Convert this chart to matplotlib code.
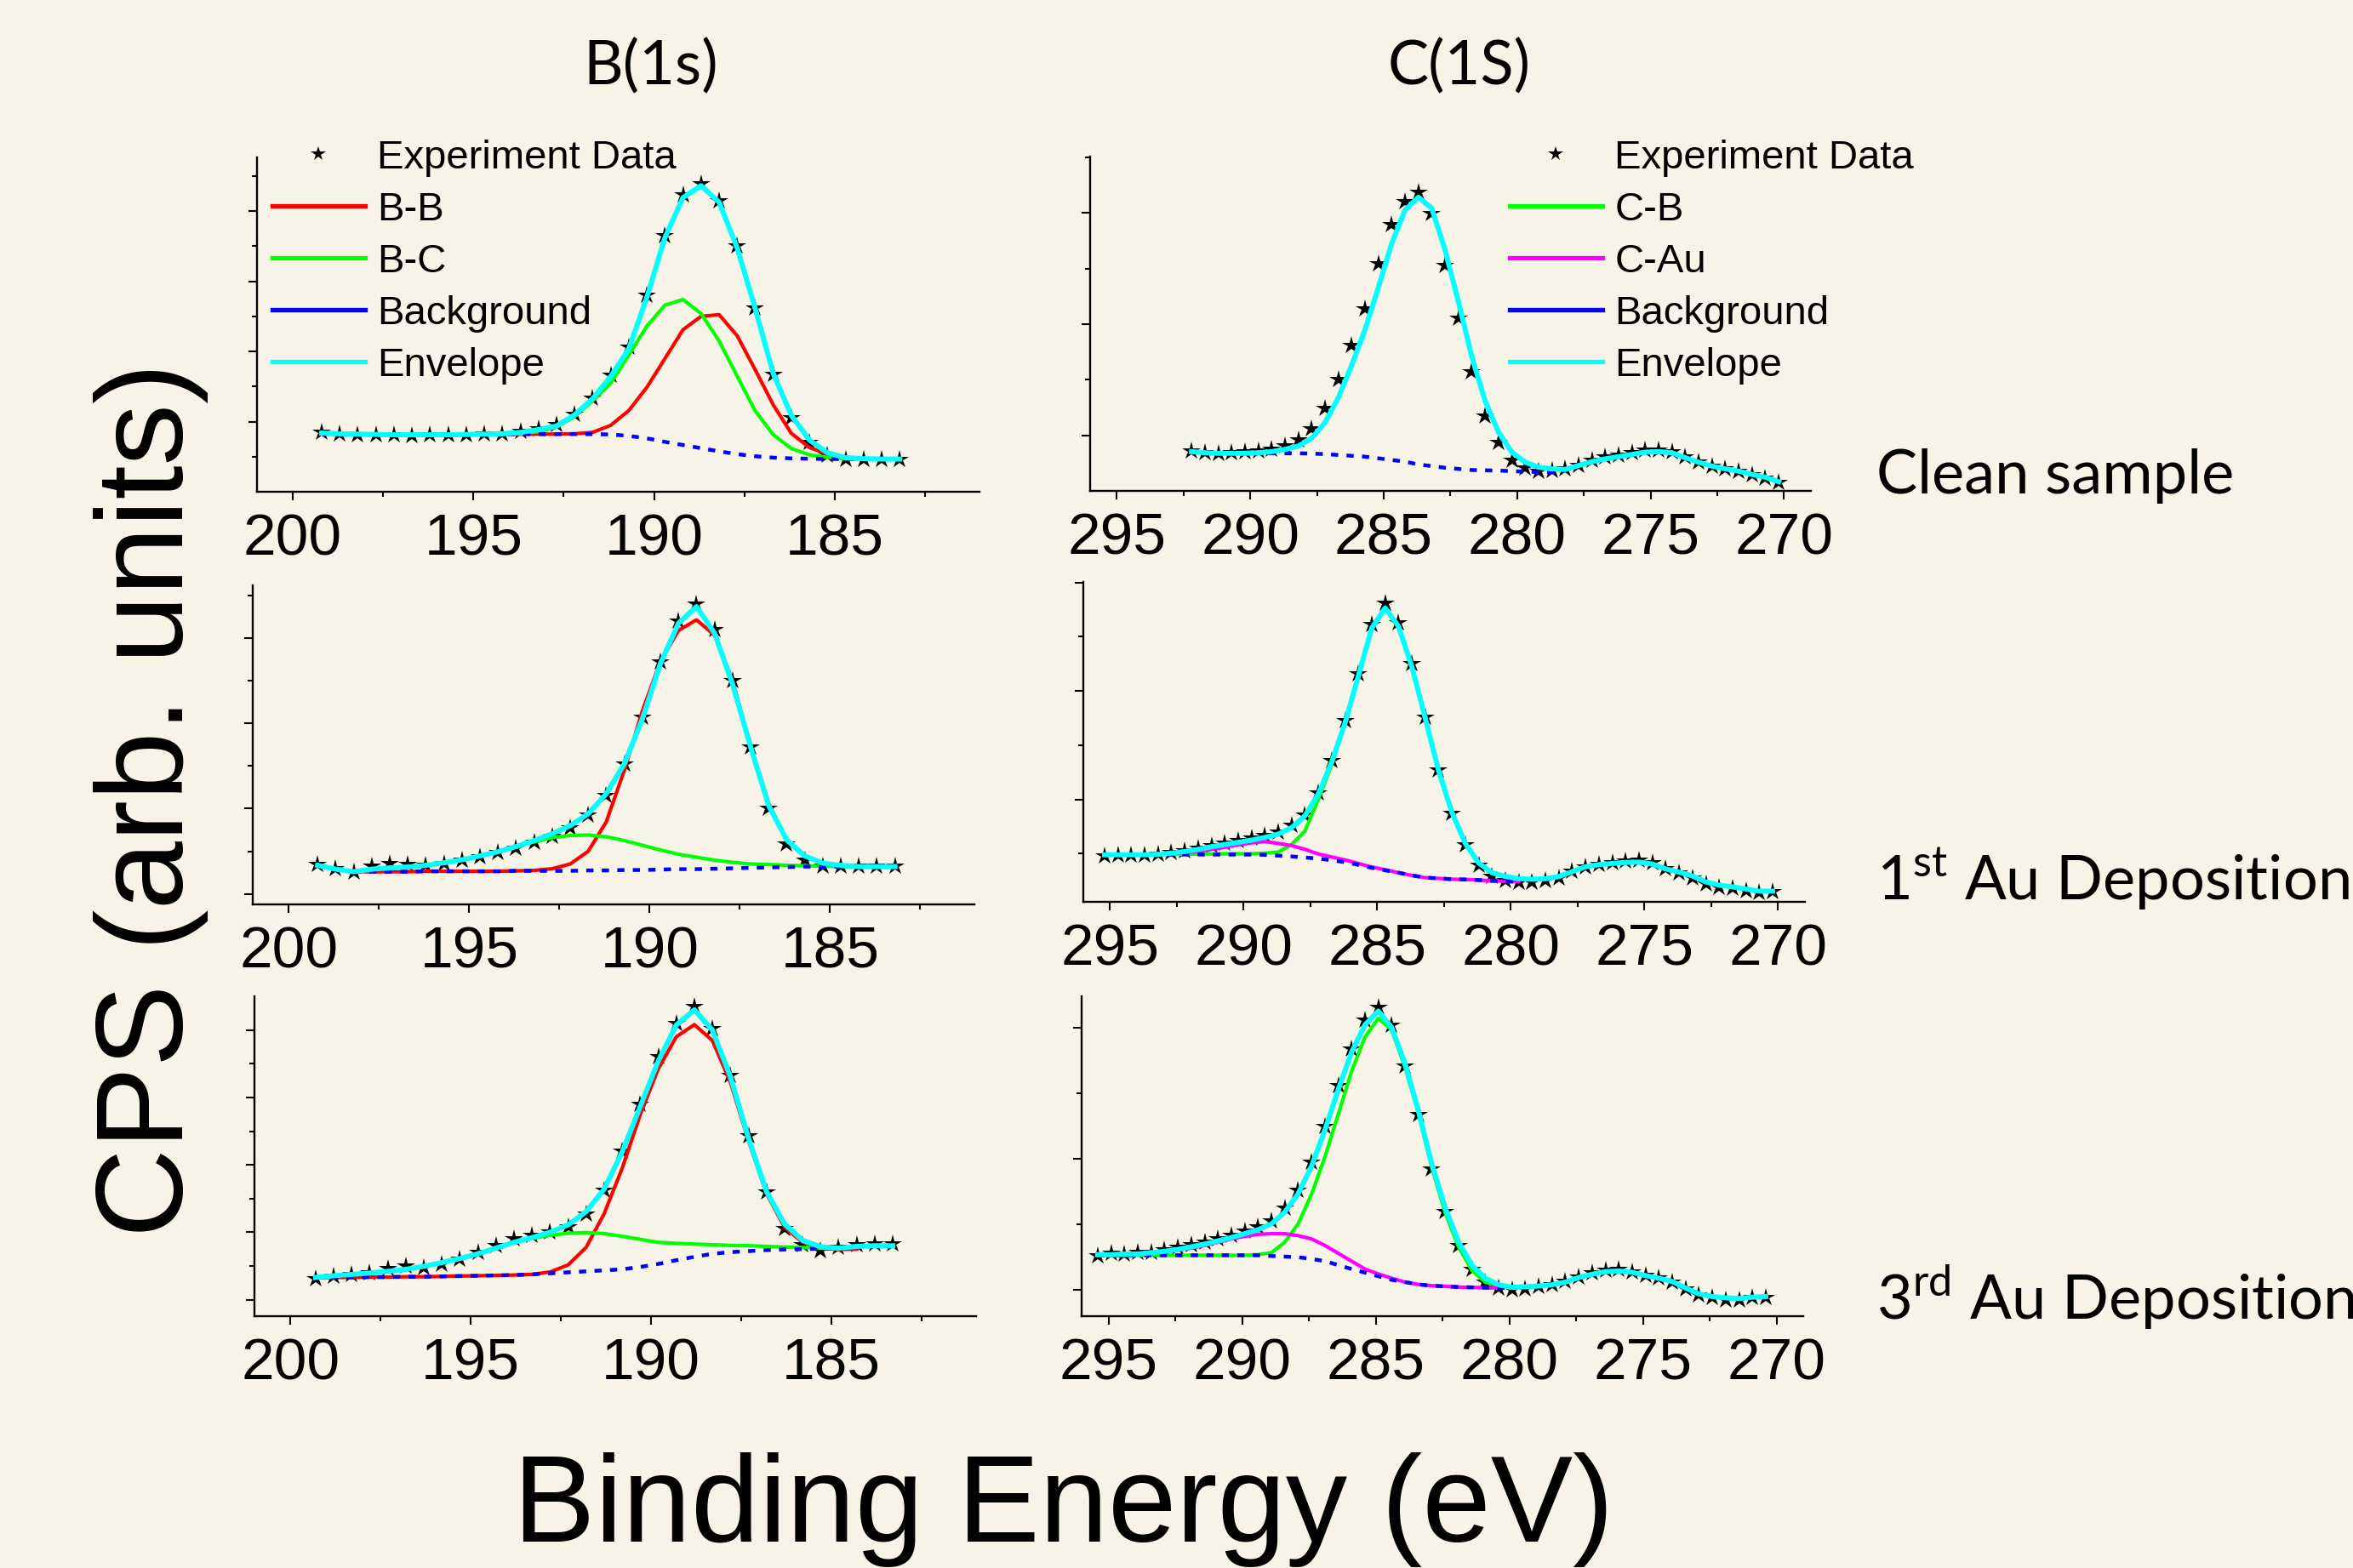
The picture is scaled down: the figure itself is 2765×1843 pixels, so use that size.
import numpy as np
import matplotlib
matplotlib.use('Agg')
import matplotlib.pyplot as plt
from matplotlib.lines import Line2D

nan = np.nan

# ---------------- B(1s), clean sample ----------------
e_b1 = np.linspace(199.2, 183.2, 33)
exp_b1 = [1.71, 1.66, 1.63, 1.64, 1.62, 1.60, 1.62, 1.63, 1.62, 1.65, 1.66, 1.72, 1.80, 1.92, 2.22, 2.68, 3.32,
          4.12, 5.60, 7.30, 8.45, 8.78, 8.30, 7.00, 5.25, 3.35, 2.12, 1.42, 1.06, 0.94, 0.92, 0.93, 0.92]
env_b1 = [1.68, 1.66, 1.65, 1.64, 1.63, 1.63, 1.63, 1.63, 1.64, 1.65, 1.66, 1.70, 1.78, 1.88, 2.20, 2.66, 3.29,
          4.08, 5.54, 7.24, 8.38, 8.72, 8.25, 6.95, 5.22, 3.37, 2.18, 1.48, 1.12, 0.98, 0.95, 0.94, 0.94]
bg_b1 = [1.66, 1.65, 1.65, 1.64, 1.63, 1.63, 1.63, 1.63, 1.63, 1.64, 1.65, 1.65, 1.65, 1.65, 1.65, 1.65, 1.64,
         1.60, 1.53, 1.43, 1.34, 1.25, 1.16, 1.08, 1.02, 0.98, 0.96, 0.95, 0.94, 0.94, 0.94, 0.94, 0.94]
bb_b1 = [1.66, 1.65, 1.65, 1.64, 1.63, 1.63, 1.63, 1.63, 1.63, 1.64, 1.65, 1.65, 1.65, 1.65, 1.66, 1.70, 1.90,
         2.32, 2.98, 3.80, 4.62, 5.00, 5.05, 4.45, 3.48, 2.48, 1.67, 1.27, 1.08, 0.98, 0.95, 0.94, 0.94]
bc_b1 = [1.66, 1.65, 1.65, 1.64, 1.63, 1.63, 1.63, 1.63, 1.63, 1.64, 1.65, 1.66, 1.72, 1.85, 2.15, 2.60, 3.10,
         3.90, 4.72, 5.32, 5.48, 5.08, 4.30, 3.30, 2.31, 1.63, 1.24, 1.06, 0.99, 0.95, 0.94, 0.94, 0.94]

# ---------------- C(1S), clean sample ----------------
e_c1 = np.linspace(292.2, 270.2, 45)
exp_c1 = [0.73, 0.69, 0.67, 0.69, 0.70, 0.72, 0.76, 0.82, 0.92, 1.12, 1.48, 2.00, 2.62, 3.28, 4.08, 4.78, 5.20,
          5.37, 4.98, 4.05, 3.10, 2.15, 1.35, 0.88, 0.55, 0.42, 0.36, 0.37, 0.40, 0.47, 0.55, 0.61, 0.65, 0.69,
          0.74, 0.74, 0.70, 0.61, 0.52, 0.45, 0.40, 0.35, 0.29, 0.23, 0.16]
env_c1 = [0.71, 0.69, 0.68, 0.68, 0.68, 0.69, 0.71, 0.75, 0.81, 0.95, 1.23, 1.68, 2.26, 2.90, 3.66, 4.45, 5.05,
          5.28, 5.08, 4.33, 3.40, 2.42, 1.62, 1.06, 0.70, 0.52, 0.43, 0.40, 0.39, 0.46, 0.53, 0.58, 0.62, 0.66,
          0.70, 0.71, 0.69, 0.60, 0.52, 0.45, 0.40, 0.36, 0.30, 0.25, 0.17]
bg_c1 = [0.71, 0.69, 0.68, 0.68, 0.68, 0.68, 0.68, 0.68, 0.68, 0.675, 0.665, 0.65, 0.635, 0.62, 0.59, 0.56, 0.53,
         0.48, 0.45, 0.42, 0.40, 0.38, 0.375, 0.37, 0.36, 0.35, 0.345, 0.34, 0.37,
         nan, nan, nan, nan, nan, nan, nan, nan, nan, nan, nan, nan, nan, nan, nan, nan]
cb_c1 = env_c1  # single C-B component, lies under the envelope

# ---------------- B(1s), 1st Au deposition ----------------
e_b2 = np.linspace(199.2, 183.2, 33)
exp_b2 = [0.70, 0.60, 0.52, 0.66, 0.72, 0.70, 0.68, 0.72, 0.80, 0.88, 0.97, 1.08, 1.21, 1.36, 1.55, 1.85, 2.30,
          3.05, 4.15, 5.45, 6.40, 6.80, 6.20, 5.00, 3.45, 2.00, 1.18, 0.80, 0.66, 0.66, 0.66, 0.66, 0.66]
env_b2 = [0.67, 0.58, 0.52, 0.58, 0.61, 0.63, 0.67, 0.73, 0.80, 0.89, 0.99, 1.11, 1.25, 1.41, 1.60, 1.88, 2.35,
          3.05, 4.10, 5.40, 6.35, 6.74, 6.12, 4.92, 3.45, 2.07, 1.27, 0.89, 0.72, 0.67, 0.64, 0.64, 0.64]
bg_b2 = [nan, nan, 0.52, 0.52, 0.52, 0.52, 0.53, 0.53, 0.53, 0.53, 0.53, 0.54, 0.54, 0.54, 0.54, 0.55, 0.55,
         0.56, 0.56, 0.57, 0.58, 0.58, 0.59, 0.60, 0.61, 0.62, 0.63, 0.64, 0.64, 0.64, 0.64, 0.64, 0.64]
bb_b2 = [nan, nan, 0.52, 0.52, 0.52, 0.52, 0.53, 0.53, 0.53, 0.53, 0.53, 0.54, 0.55, 0.59, 0.70, 1.00, 1.69,
         2.90, 4.29, 5.45, 6.18, 6.43, 6.07, 5.00, 3.46, 2.13, 1.24, 0.88, 0.72, 0.66, 0.65, 0.65, 0.65]
bc_b2 = [0.67, 0.58, 0.52, 0.58, 0.61, 0.63, 0.67, 0.73, 0.80, 0.89, 0.99, 1.10, 1.22, 1.32, 1.37, 1.38, 1.34,
         1.25, 1.14, 1.03, 0.93, 0.86, 0.79, 0.74, 0.70, 0.69, 0.67, 0.66, 0.65, 0.64, 0.64, 0.64, 0.64]

# ---------------- C(1S), 1st Au deposition ----------------
e_c2 = np.linspace(295.2, 270.2, 51)
exp_c2 = [-0.04, -0.03, -0.02, -0.03, -0.01, 0.02, 0.05, 0.10, 0.15, 0.20, 0.25, 0.29, 0.34, 0.40, 0.52, 0.72,
          1.12, 1.72, 2.45, 3.32, 4.22, 4.62, 4.25, 3.50, 2.52, 1.55, 0.74, 0.16, -0.22, -0.42, -0.50, -0.53,
          -0.52, -0.50, -0.44, -0.33, -0.24, -0.20, -0.17, -0.13, -0.12, -0.17, -0.28, -0.36, -0.44, -0.55,
          -0.62, -0.64, -0.68, -0.72, -0.70]
env_c2 = [-0.02, -0.02, -0.02, -0.02, -0.01, 0.01, 0.04, 0.08, 0.13, 0.17, 0.21, 0.25, 0.30, 0.36, 0.48, 0.70,
          1.10, 1.69, 2.41, 3.28, 4.16, 4.53, 4.19, 3.45, 2.50, 1.53, 0.76, 0.19, -0.17, -0.35, -0.42, -0.46,
          -0.47, -0.46, -0.42, -0.33, -0.24, -0.20, -0.18, -0.16, -0.155, -0.19, -0.28, -0.34, -0.41, -0.52,
          -0.58, -0.61, -0.65, -0.69, -0.69]
bg_c2 = [-0.015, -0.015, -0.015, -0.015, -0.015, -0.015, -0.015, -0.015, -0.015, -0.015, -0.015, -0.015,
         -0.02, -0.035, -0.05, -0.07, -0.09, -0.12, -0.155, -0.205, -0.26, -0.305, -0.35, -0.40, -0.44, -0.455,
         -0.47, -0.475, -0.485, -0.50, -0.51, -0.515,
         nan, nan, nan, nan, nan, nan, nan, nan, nan, nan, nan, nan, nan, nan, nan, nan, nan, nan, nan]
cb_c2 = [-0.015, -0.015, -0.015, -0.015, -0.01, -0.01, -0.01, -0.005, -0.005, 0.0, 0.0, 0.0, 0.01, 0.03, 0.17,
         0.42, 1.00, 1.64, 2.40, 3.28, 4.16, 4.53, 4.19, 3.45, 2.50, 1.53, 0.76, 0.19, -0.17, -0.35, -0.42,
         nan, nan, nan, nan, nan, nan, nan, nan, nan, nan, nan, nan, nan, nan, nan, nan, nan, nan, nan, nan]
cau_c2 = [-0.015, -0.015, -0.015, -0.015, -0.01, 0.0, 0.02, 0.045, 0.08, 0.12, 0.165, 0.20, 0.225, 0.19, 0.15,
          0.08, -0.005, -0.06, -0.115, -0.18, -0.245, -0.295, -0.35, -0.40, -0.44, -0.455, -0.47, -0.475,
          -0.485, -0.50, -0.51, -0.515,
          nan, nan, nan, nan, nan, nan, nan, nan, nan, nan, nan, nan, nan, nan, nan, nan, nan, nan, nan]

# ---------------- B(1s), 3rd Au deposition ----------------
e_b3 = np.linspace(199.3, 183.3, 33)
exp_b3 = [0.62, 0.70, 0.74, 0.80, 0.92, 1.00, 0.95, 1.05, 1.20, 1.40, 1.60, 1.80, 1.90, 2.00, 2.15, 2.55, 3.25,
          4.40, 5.80, 7.20, 8.20, 8.70, 8.05, 6.65, 4.85, 3.20, 2.10, 1.62, 1.45, 1.55, 1.62, 1.65, 1.65]
env_b3 = [0.66, 0.71, 0.75, 0.79, 0.84, 0.90, 0.99, 1.10, 1.22, 1.36, 1.53, 1.70, 1.84, 2.00, 2.22, 2.61, 3.28,
          4.38, 5.73, 7.08, 8.15, 8.60, 8.00, 6.62, 4.80, 3.21, 2.25, 1.76, 1.57, 1.53, 1.58, 1.60, 1.60]
bg_b3 = [0.65, 0.66, 0.66, 0.67, 0.67, 0.68, 0.68, 0.69, 0.70, 0.71, 0.72, 0.73, 0.75, 0.78, 0.81, 0.84, 0.87,
         0.90, 0.97, 1.06, 1.17, 1.27, 1.36, 1.41, 1.44, 1.47, 1.49, 1.50, 1.51, 1.52, 1.53, nan, nan]
bb_b3 = [0.65, 0.66, 0.66, 0.67, 0.67, 0.68, 0.68, 0.69, 0.70, 0.71, 0.72, 0.73, 0.75, 0.82, 1.03, 1.55, 2.55,
         3.90, 5.49, 6.85, 7.80, 8.16, 7.69, 6.45, 4.72, 3.15, 2.15, 1.70, 1.53, 1.49, 1.50, nan, nan]
bc_b3 = [0.66, 0.71, 0.75, 0.79, 0.84, 0.90, 0.99, 1.10, 1.22, 1.36, 1.53, 1.70, 1.82, 1.91, 1.97, 1.99, 1.96,
         1.88, 1.79, 1.70, 1.67, 1.65, 1.63, 1.61, 1.60, 1.58, 1.56, 1.55, 1.53, 1.51, nan, nan, nan]

# ---------------- C(1S), 3rd Au deposition ----------------
e_c3 = np.linspace(295.4, 270.4, 51)
exp_c3 = [0.52, 0.56, 0.55, 0.57, 0.58, 0.62, 0.65, 0.69, 0.73, 0.78, 0.84, 0.90, 0.97, 1.06, 1.25, 1.52, 1.95,
          2.50, 3.12, 3.68, 4.12, 4.32, 4.05, 3.42, 2.68, 1.85, 1.20, 0.68, 0.32, 0.12, 0.03, 0.00, 0.02, 0.05,
          0.08, 0.13, 0.20, 0.26, 0.30, 0.31, 0.28, 0.23, 0.18, 0.12, 0.02, -0.08, -0.12, -0.15, -0.15, -0.12,
          -0.12]
env_c3 = [0.54, 0.54, 0.55, 0.55, 0.57, 0.59, 0.62, 0.66, 0.70, 0.75, 0.80, 0.86, 0.92, 1.01, 1.19, 1.47, 1.89,
          2.44, 3.06, 3.63, 4.05, 4.26, 4.01, 3.46, 2.74, 1.93, 1.26, 0.74, 0.38, 0.18, 0.08, 0.04, 0.05, 0.06,
          0.08, 0.12, 0.19, 0.24, 0.28, 0.29, 0.27, 0.22, 0.18, 0.13, 0.03, -0.06, -0.10, -0.12, -0.13, -0.11,
          -0.10]
bg_c3 = [0.53, 0.53, 0.53, 0.53, 0.53, 0.53, 0.53, 0.53, 0.53, 0.53, 0.53, 0.53, 0.53, 0.52, 0.51, 0.50, 0.475,
         0.44, 0.38, 0.32, 0.265, 0.21, 0.155, 0.12, 0.085, 0.065, 0.055, 0.045, 0.04, 0.035, 0.03, 0.03,
         nan, nan, nan, nan, nan, nan, nan, nan, nan, nan, nan, nan, nan, nan, nan, nan, nan, nan, nan]
cb_c3 = [0.53, 0.53, 0.53, 0.53, 0.53, 0.53, 0.53, 0.53, 0.53, 0.53, 0.53, 0.53, 0.54, 0.57, 0.73, 1.01, 1.46,
         2.03, 2.68, 3.34, 3.86, 4.15, 3.97, 3.40, 2.70, 1.87, 1.18, 0.66, 0.30, 0.12, 0.06, 0.03,
         nan, nan, nan, nan, nan, nan, nan, nan, nan, nan, nan, nan, nan, nan, nan, nan, nan, nan, nan]
cau_c3 = [0.54, 0.54, 0.55, 0.55, 0.56, 0.58, 0.61, 0.64, 0.68, 0.73, 0.78, 0.82, 0.85, 0.86, 0.86, 0.83, 0.78,
          0.68, 0.56, 0.44, 0.32, 0.245, 0.18, 0.12, 0.085, 0.065, 0.055, 0.045, 0.04, 0.035, 0.03,
          nan, nan, nan, nan, nan, nan, nan, nan, nan, nan, nan, nan, nan, nan, nan, nan, nan, nan, nan, nan]

# tick values
b_major = [200, 195, 190, 185]
b_minor = [197.5, 192.5, 187.5, 182.5]
c_major = [295, 290, 285, 280, 275, 270]
c_minor = [292.5, 287.5, 282.5, 277.5, 272.5]

row_labels = ['Clean sample', r'1$^{\mathrm{st}}$ Au Deposition', r'3$^{\mathrm{rd}}$ Au Deposition']

RED, GREEN, BLUE, CYAN, MAG = '#ff0000', '#00ff00', '#0000ff', '#00ffff', '#ff00ff'
BGCOL = '#f7f3e6'
W, H = 2765, 1843

plt.rcParams['font.family'] = ['Liberation Sans', 'DejaVu Sans']
plt.rcParams['mathtext.fontset'] = 'custom'
plt.rcParams['mathtext.rm'] = 'Lato'

fig = plt.figure(figsize=(W / 100, H / 100), dpi=100)
fig.patch.set_facecolor(BGCOL)


def add_ax(left, top, right, bottom):
    return fig.add_axes([left / W, 1 - bottom / H, (right - left) / W, (bottom - top) / H])


def style(ax, xlim, xmaj, xmin, ylim, ymaj, ymin):
    ax.set_facecolor(BGCOL)
    ax.set_xlim(*xlim)
    ax.set_ylim(*ylim)
    ax.set_xticks(xmaj)
    ax.set_xticklabels([str(v) for v in xmaj])
    ax.set_xticks(xmin, minor=True)
    ax.set_yticks(ymaj)
    ax.set_yticks(ymin, minor=True)
    ax.tick_params(labelleft=False)
    for s in ['top', 'right']:
        ax.spines[s].set_visible(False)
    for s in ['left', 'bottom']:
        ax.spines[s].set_linewidth(1.7)
    ax.tick_params(which='major', length=7.5, width=1.5, labelsize=50, pad=10, direction='out')
    ax.tick_params(which='minor', length=4, width=1.5, direction='out')


def draw(ax, e, exp, comps, bg, env):
    ax.plot(e, exp, ls='none', marker='*', ms=16, color='black', mew=0, zorder=2, clip_on=False)
    for vals, col in comps:
        ax.plot(e, vals, color=col, lw=3.0, zorder=3, solid_joinstyle='round')
    ax.plot(e, bg, color=BLUE, lw=3.2, ls=(0, (1.9, 2.2)), zorder=4)
    ax.plot(e, env, color=CYAN, lw=4.3, zorder=5, solid_joinstyle='round')


def legend(ax, names, x_px):
    handles = [Line2D([], [], ls='none', marker='*', ms=13, color='black', mew=0)]
    for col in [c for _, c in names[1:]]:
        handles.append(Line2D([], [], color=col, lw=3.8))
    ax.legend(handles, [n for n, _ in names], loc='upper left',
              bbox_to_anchor=(x_px / W, 1 - 164 / H), bbox_transform=fig.transFigure,
              frameon=False, fontsize=34, handlelength=2.3, handletextpad=0.31,
              labelspacing=0.36, borderpad=0, borderaxespad=0)


# panel 1: B clean
ax1 = add_ax(301.6, 184.8, 1150.7, 578.4)
style(ax1, (201, 181), b_major, b_minor, (0, 9.53), [2, 4, 6, 8], [1, 3, 5, 7, 9])
draw(ax1, e_b1, exp_b1, [(bb_b1, RED), (bc_b1, GREEN)], bg_b1, env_b1)
legend(ax1, [('Experiment Data', 'k'), ('B-B', RED), ('B-C', GREEN), ('Background', BLUE),
             ('Envelope', CYAN)], 320)

# panel 2: C clean
ax2 = add_ax(1281, 184, 2127.8, 577.3)
style(ax2, (296, 269), c_major, c_minor, (0, 6.01), [1, 3, 5], [2, 4, 6])
draw(ax2, e_c1, exp_c1, [(cb_c1, GREEN)], bg_c1, env_c1)
legend(ax2, [('Experiment Data', 'k'), ('C-B', GREEN), ('C-Au', MAG), ('Background', BLUE),
             ('Envelope', CYAN)], 1774)

# panel 3: B 1st
ax3 = add_ax(296.9, 688, 1144.9, 1063.4)
style(ax3, (201, 181), b_major, b_minor, (-0.255, 7.24), [0, 2, 4, 6], [1, 3, 5, 7])
draw(ax3, e_b2, exp_b2, [(bb_b2, RED), (bc_b2, GREEN)], bg_b2, env_b2)

# panel 4: C 1st
ax4 = add_ax(1272.8, 684, 2120.7, 1060.2)
style(ax4, (296, 269), c_major, c_minor, (-0.89, 5.01), [1, 3, 5], [0, 2, 4])
draw(ax4, e_c2, exp_c2, [(cb_c2, GREEN), (cau_c2, MAG)], bg_c2, env_c2)

# panel 5: B 3rd
ax5 = add_ax(298.7, 1170.7, 1146.6, 1547)
style(ax5, (201, 181), b_major, b_minor, (-0.49, 9.01), [0, 2, 4, 6, 8], [1, 3, 5, 7])
draw(ax5, e_b3, exp_b3, [(bb_b3, RED), (bc_b3, GREEN)], bg_b3, env_b3)

# panel 6: C 3rd
ax6 = add_ax(1271.1, 1170.7, 2118.9, 1547)
style(ax6, (296, 269), c_major, c_minor, (-0.40, 4.49), [0, 2, 4], [1, 3])
draw(ax6, e_c3, exp_c3, [(cb_c3, GREEN), (cau_c3, MAG)], bg_c3, env_c3)

# column titles and row labels
fig.text(765 / W, 1 - 99 / H, 'B(1s)', family='Lato', fontsize=52, ha='center', va='baseline')
fig.text(1715 / W, 1 - 99 / H, 'C(1S)', family='Lato', fontsize=52, ha='center', va='baseline')
for lab, yb in zip(row_labels, [580, 1058, 1551]):
    fig.text(2205 / W, 1 - yb / H, lab, family='Lato', fontsize=52, ha='left', va='baseline')

# big axis labels
fig.text(215 / W, 1 - 940 / H, 'CPS (arb. units)', fontsize=104, rotation=90,
         rotation_mode='anchor', ha='center', va='baseline')
fig.text(1250 / W, 1 - 1812 / H, 'Binding Energy (eV)', fontsize=104, ha='center', va='baseline')

fig.savefig('out.png', dpi=100, facecolor=BGCOL)
